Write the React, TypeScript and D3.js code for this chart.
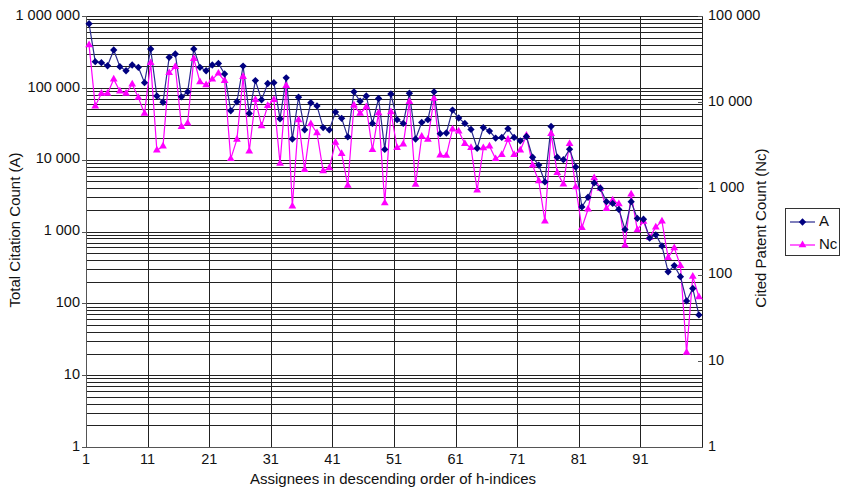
import React from "react";
import * as d3 from "d3";

// ---- data ----
const seriesA: number[] = [
  780000, 231000, 224000, 203000, 336000, 197000, 173000, 208000, 193000, 118000,
  347000, 77000, 63000, 266000, 296000, 75000, 88000, 347000, 193000, 173000,
  208000, 219000, 156000, 48000, 64000, 201000, 44000, 126000, 68000, 115000,
  118000, 37000, 138000, 19400, 74000, 26000, 62000, 56000, 28000, 26000,
  46000, 37600, 20800, 88000, 65000, 77000, 32000, 71000, 13900, 82000,
  36000, 32000, 84000, 19400, 33000, 36000, 88000, 23000, 23500, 49000,
  38000, 32000, 26400, 14400, 28000, 25000, 20000, 20400, 27000, 20400,
  18300, 21000, 10800, 8400, 4900, 29000, 10800, 10000, 14000, 7900,
  2200, 3000, 4750, 4000, 2600, 2460, 2030, 1070, 2600, 1520,
  1480, 810, 900, 630, 275, 335, 235, 108, 161, 69,
];

const seriesNc: number[] = [
  46000, 9000, 12600, 12600, 18500, 13400, 12600, 16200, 11300, 7400,
  28600, 2770, 3080, 21900, 25800, 5200, 5700, 32000, 17200, 15800,
  18400, 21600, 17700, 2200, 3700, 19700, 2700, 10700, 5300, 9100,
  10700, 1940, 15500, 620, 6200, 1650, 5600, 4400, 1590, 1720,
  3400, 2530, 1080, 9200, 7400, 8800, 2800, 7500, 675, 7700,
  2970, 3250, 10100, 1110, 4000, 3700, 11000, 2420, 2400, 4860,
  4600, 3300, 2970, 950, 2940, 3080, 2200, 2460, 3700, 2460,
  2770, 4100, 1850, 1220, 417, 4300, 1520, 1120, 3300, 1040,
  349, 573, 1320, 1000, 581, 730, 660, 219, 855, 330,
  413, 270, 355, 415, 157, 204, 127, 12.5, 95, 55,
];

const categories: number[] = seriesA.map((_, i) => i + 1);
const xTickCats: number[] = [1, 11, 21, 31, 41, 51, 61, 71, 81, 91];
const leftTicks: number[] = [1, 10, 100, 1000, 10000, 100000, 1000000];
const rightTicks: number[] = [1, 10, 100, 1000, 10000, 100000];
const seriesNames: string[] = ["A", "Nc"];

const W = 842;
const H = 492;
const FONT = "'Liberation Sans', Arial, sans-serif";

const fmt = (v: number) => d3.format(",")(v).replace(/,/g, " ");

export default function App() {
  const left = 86;
  const right = 702;
  const top = 16;
  const bottom = 447;

  const x = d3.scaleBand<number>().domain(categories).range([left, right]);
  const bw = x.bandwidth();
  const cx = (c: number) => (x(c) as number) + bw / 2;

  const yL = d3.scaleLog().domain([1, 1000000]).range([bottom, top]);
  const yR = d3.scaleLog().domain([1, 100000]).range([bottom, top]);

  // minor gridlines for left axis
  const gridVals: number[] = [];
  for (let d = 0; d < 6; d++) {
    for (let k = 1; k <= 9; k++) gridVals.push(k * Math.pow(10, d));
  }
  gridVals.push(1000000);

  const lineA = d3
    .line<number>()
    .x((_, i) => cx(categories[i]))
    .y((v) => yL(v));
  const lineNc = d3
    .line<number>()
    .x((_, i) => cx(categories[i]))
    .y((v) => yR(v));

  const diamondType: any = (d3 as any).symbolDiamond2 || d3.symbolDiamond;
  const diamond = d3.symbol().type(diamondType).size(34)() as string;
  const triangle = d3.symbol().type(d3.symbolTriangle).size(26)() as string;

  const colA = "#000080";
  const colNc = "#FF00FF";

  return (
    <svg
      width={W}
      height={H}
      style={{ position: "fixed", left: 0, top: 0, display: "block", background: "#fff" }}
      fontFamily={FONT}
    >
      <rect x={0} y={0} width={W} height={H} fill="#fff" />
      {/* horizontal gridlines */}
      <g stroke="#222" strokeWidth={1}>
        {gridVals.map((v, i) => {
          const yy = Math.round(yL(v)) + 0.5;
          return <line key={i} x1={left} x2={right} y1={yy} y2={yy} />;
        })}
        {xTickCats.map((c) => {
          const xx = Math.round(x(c) as number) + 0.5;
          return <line key={"v" + c} x1={xx} x2={xx} y1={top} y2={bottom} />;
        })}
        <line x1={right + 0.5} x2={right + 0.5} y1={top} y2={bottom} />
      </g>
      {/* axes */}
      <g stroke="#555" strokeWidth={1}>
        <line x1={left + 0.5} x2={left + 0.5} y1={top} y2={bottom + 0.5} />
        <line x1={left} x2={right} y1={bottom + 0.5} y2={bottom + 0.5} />
        {leftTicks.map((t) => {
          const yy = Math.round(yL(t)) + 0.5;
          return <line key={"lt" + t} x1={left - 4} x2={left} y1={yy} y2={yy} />;
        })}
        {rightTicks.map((t) => {
          const yy = Math.round(yR(t)) + 0.5;
          return <line key={"rt" + t} x1={right - 4} x2={right + 1} y1={yy} y2={yy} />;
        })}
      </g>
      {/* left tick labels */}
      <g fontSize={14.5} fill="#111" textAnchor="end">
        {leftTicks.map((t) => (
          <text key={t} x={80} y={yL(t)} dominantBaseline="middle">
            {fmt(t)}
          </text>
        ))}
      </g>
      {/* right tick labels */}
      <g fontSize={14.5} fill="#111" textAnchor="start">
        {rightTicks.map((t) => (
          <text key={t} x={708} y={yR(t)} dominantBaseline="middle">
            {fmt(t)}
          </text>
        ))}
      </g>
      {/* x tick labels */}
      <g fontSize={14.5} fill="#111" textAnchor="middle">
        {xTickCats.map((c) => (
          <text key={c} x={x(c) as number} y={460} dominantBaseline="middle">
            {String(c)}
          </text>
        ))}
      </g>
      {/* axis titles */}
      <text x={393} y={480} fontSize={15} textAnchor="middle" dominantBaseline="middle" fill="#111">
        Assignees in descending order of h-indices
      </text>
      <text
        transform={`translate(16,230) rotate(-90)`}
        fontSize={15}
        textAnchor="middle"
        dominantBaseline="middle"
        fill="#111"
      >
        Total Citation Count (A)
      </text>
      <text
        transform={`translate(762,228) rotate(-90)`}
        fontSize={15}
        textAnchor="middle"
        dominantBaseline="middle"
        fill="#111"
      >
        Cited Patent Count (Nc)
      </text>
      {/* series */}
      <path d={lineNc(seriesNc) || ""} fill="none" stroke={colNc} strokeWidth={1.2} />
      <path d={lineA(seriesA) || ""} fill="none" stroke="#2a2a90" strokeWidth={1.2} />
      <g fill={colNc}>
        {seriesNc.map((v, i) => (
          <path key={i} d={triangle} transform={`translate(${cx(categories[i])},${yR(v)})`} />
        ))}
      </g>
      <g fill={colA}>
        {seriesA.map((v, i) => (
          <path key={i} d={diamond} transform={`translate(${cx(categories[i])},${yL(v)})`} />
        ))}
      </g>
      {/* legend */}
      <g>
        <rect x={785.5} y={208.5} width={54} height={47} fill="#fff" stroke="#333" strokeWidth={1} />
        <line x1={790} x2={815} y1={222} y2={222} stroke="#2a2a90" strokeWidth={1.2} />
        <path d={diamond} transform="translate(802.5,222)" fill={colA} />
        <text x={819} y={222} fontSize={15} dominantBaseline="middle" fill="#111">
          {seriesNames[0]}
        </text>
        <line x1={790} x2={815} y1={245} y2={245} stroke={colNc} strokeWidth={1.2} />
        <path d={triangle} transform="translate(802.5,245)" fill={colNc} />
        <text x={819} y={245} fontSize={15} dominantBaseline="middle" fill="#111">
          {seriesNames[1]}
        </text>
      </g>
    </svg>
  );
}
